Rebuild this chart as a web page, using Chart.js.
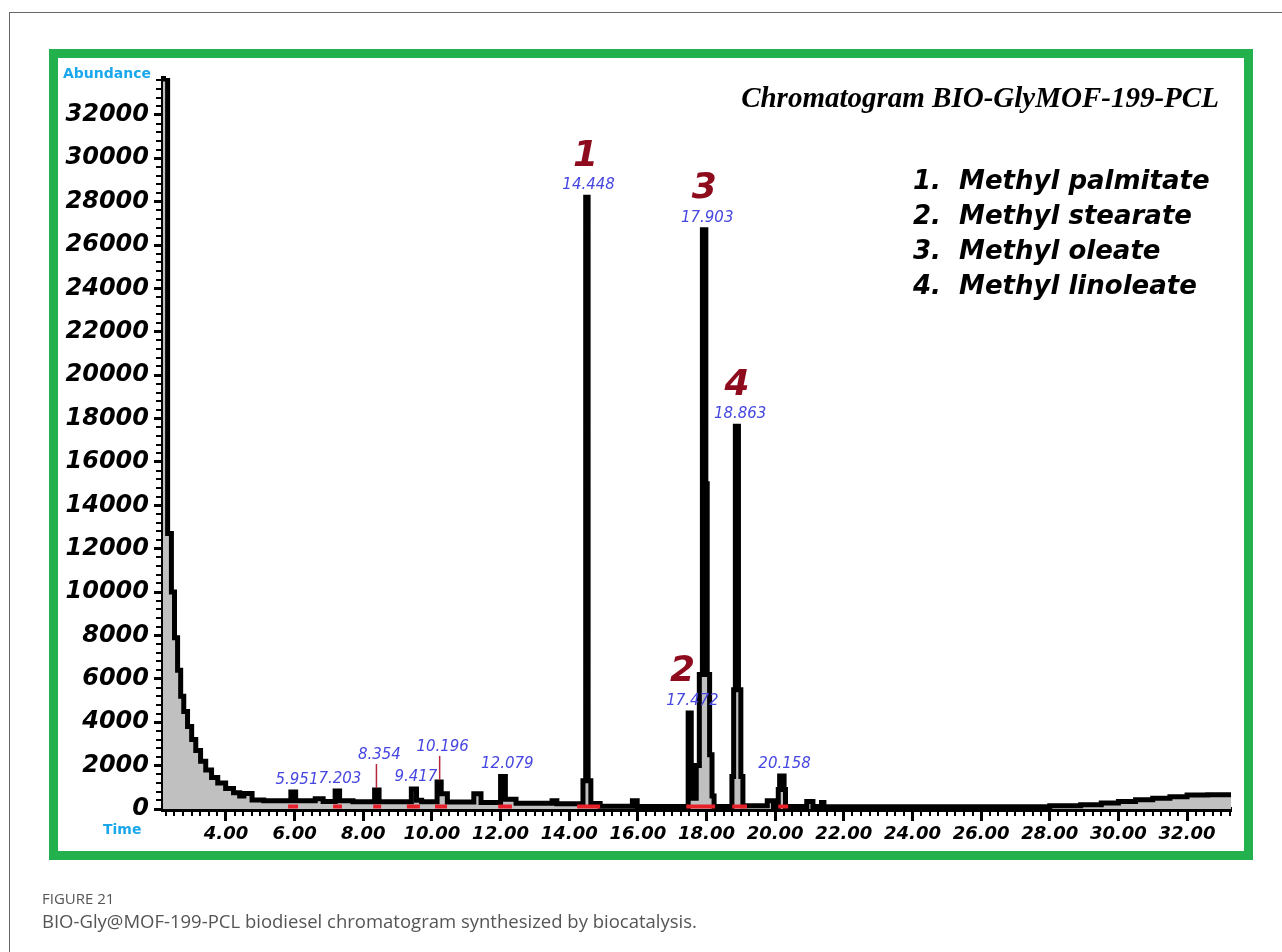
<!DOCTYPE html>
<html><head><meta charset="utf-8">
<script src="https://cdn.jsdelivr.net/npm/chart.js@4.4.0/dist/chart.umd.min.js"></script>
<style>
 body{margin:0;background:#fff;width:1282px;height:952px;overflow:hidden;position:relative}
 .frame{position:absolute;left:9px;top:12px;right:0;bottom:0;border-left:1px solid #666;border-top:1px solid #666}
 .green{position:absolute;left:49px;top:49px;width:1204px;height:811px;box-sizing:border-box;border:9px solid #22b14c}
 #c{position:absolute;left:0;top:0}
 .fig{position:absolute;left:42px;top:888px;font:500 15px "Open Sans",sans-serif;color:#555}
 .cap{position:absolute;left:42px;top:908px;font:18.5px "Open Sans",sans-serif;color:#555}
</style></head><body>
<div class="frame"></div>
<div class="green"></div>
<canvas id="c" width="1282" height="952"></canvas>
<div class="fig">FIGURE 21</div>
<div class="cap">BIO-Gly@MOF-199-PCL biodiesel chromatogram synthesized by biocatalysis.</div>
<script>
// retention time (min) where each step of the trace starts, and abundance
const time = [2.165, 2.30, 2.41, 2.50, 2.59, 2.68, 2.77, 2.88, 3.00, 3.12, 3.26, 3.41, 3.58, 3.76, 3.99, 4.22, 4.40, 4.52, 4.76, 5.10,
  5.89, 6.03, 6.60, 6.83, 7.18, 7.31, 7.70, 8.33, 8.46, 9.40, 9.55, 9.70, 10.15, 10.27, 10.45, 11.22, 11.43, 12.00, 12.14, 12.45,
  13.50, 13.64, 14.40, 14.48, 14.55, 14.63, 14.90, 15.84, 15.98, 17.465, 17.555, 17.70, 17.79, 17.88, 17.98, 18.02, 18.09, 18.16, 18.22,
  18.74, 18.79, 18.84, 18.93, 19.00, 19.06, 19.77, 19.95, 20.09, 20.13, 20.26, 20.30, 20.92, 21.10, 21.35, 21.42,
  28.00, 28.90, 29.50, 30.00, 30.50, 31.00, 31.50, 32.00, 32.60, 33.28];
const abundance = [33650, 12700, 10000, 7900, 6400, 5200, 4500, 3800, 3200, 2700, 2200, 1800, 1450, 1200, 950, 750, 600, 720, 420, 380,
  780, 380, 470, 350, 830, 380, 330, 875, 330, 920, 400, 330, 1250, 700, 320, 700, 300, 1500, 450, 260,
  380, 240, 1300, 28200, 1300, 250, 130, 380, 120, 4430, 500, 2000, 6200, 26700, 15000, 6200, 2500, 600, 120,
  1500, 5500, 17650, 5500, 1500, 150, 380, 110, 900, 1520, 900, 110, 350, 110, 300, 100,
  150, 200, 280, 350, 430, 500, 570, 640, 660, 660];

// axis ticks
const xTickValues = [4, 6, 8, 10, 12, 14, 16, 18, 20, 22, 24, 26, 28, 30, 32];
const yTickValues = [0, 2000, 4000, 6000, 8000, 10000, 12000, 14000, 16000, 18000, 20000, 22000, 24000, 26000, 28000, 30000, 32000];

// labelled peaks
const peakRT = ['5.951', '7.203', '8.354', '9.417', '10.196', '12.079', '14.448', '17.472', '17.903', '18.863', '20.158'];
const peakTop = [780, 830, 875, 920, 1250, 1500, 28200, 4430, 26700, 17650, 1520];
const peakNo = ['', '', '', '', '', '', '1', '2', '3', '4', ''];
const leader = [false, false, true, false, true, false, false, false, false, false, false];

// integration marks under the peaks
const markStart = [5.81, 7.12, 8.29, 9.27, 10.09, 11.93, 14.23, 17.41, 18.75, 20.09];
const markEnd = [6.10, 7.38, 8.52, 9.65, 10.44, 12.33, 14.90, 18.25, 19.18, 20.38];

const compounds = ['1.  Methyl palmitate', '2.  Methyl stearate', '3.  Methyl oleate', '4.  Methyl linoleate'];
const title = 'Chromatogram BIO-GlyMOF-199-PCL';

const trace = time.map((t, i) => ({x: t, y: abundance[i]}));
const marks = [];
markStart.forEach((s, i) => { marks.push({x: s, y: 120}, {x: markEnd[i], y: 120}, {x: markEnd[i], y: null}); });

const tickFont = (size) => ({family: '"DejaVu Sans"', size: size, weight: 'bold', style: 'italic'});

const decor = {
  id: 'decor',
  afterDatasetsDraw(chart) {
    const {ctx, scales: {x, y}} = chart;
    ctx.save();
    ctx.textAlign = 'center';
    ctx.textBaseline = 'middle';
    peakRT.forEach((rt, i) => {
      const px = x.getPixelForValue(+rt);
      const top = y.getPixelForValue(peakTop[i]);
      let cy = top - 12;
      if (leader[i]) {
        cy -= 23;
        ctx.strokeStyle = '#b4283a';
        ctx.lineWidth = 1.5;
        ctx.beginPath();
        ctx.moveTo(px + 1, cy + 9);
        ctx.lineTo(px + 1, top - 2);
        ctx.stroke();
      }
      ctx.fillStyle = '#4646e0';
      ctx.font = 'italic 15px "DejaVu Sans"';
      ctx.fillText(rt, px + 4, cy);
      if (peakNo[i]) {
        ctx.fillStyle = '#8e0b1e';
        ctx.font = 'italic bold 36px "DejaVu Sans"';
        const nudge = peakNo[i] === '2' ? -10 : -3;
        ctx.fillText(peakNo[i], px + 4 + nudge, cy - 29);
      }
    });
    ctx.restore();
  },
  afterDraw(chart) {
    const {ctx, scales: {x, y}, chartArea: a} = chart;
    ctx.save();
    ctx.strokeStyle = '#000';
    ctx.lineWidth = 2;
    ctx.beginPath();
    for (let v = 400; v < y.max; v += 400) {
      if (v % 2000 === 0) continue;
      const py = Math.round(y.getPixelForValue(v));
      ctx.moveTo(a.left - 7, py);
      ctx.lineTo(a.left, py);
    }
    for (let t = 2.25; t < x.max; t += 0.25) {
      if (Math.abs(t / 2 - Math.round(t / 2)) < 1e-6) continue;
      const px = Math.round(x.getPixelForValue(t));
      ctx.moveTo(px, a.bottom);
      ctx.lineTo(px, a.bottom + 7);
    }
    ctx.stroke();

    ctx.textBaseline = 'middle';
    ctx.fillStyle = '#1aa7ec';
    ctx.font = 'bold 14px "DejaVu Sans"';
    ctx.textAlign = 'left';
    ctx.fillText('Abundance', 63, 74);
    ctx.fillText('Time', 103, 830);

    ctx.fillStyle = '#000';
    ctx.textAlign = 'center';
    ctx.font = 'italic bold 29px "Liberation Serif"';
    ctx.fillText(title, 980, 100);

    ctx.textAlign = 'left';
    ctx.font = 'italic bold 26px "DejaVu Sans"';
    compounds.forEach((c, i) => ctx.fillText(c, 913, 182 + i * 35));
    ctx.restore();
  }
};

new Chart(document.getElementById('c'), {
  type: 'line',
  data: {
    datasets: [
      {data: marks, borderColor: '#e8202a', borderWidth: 4, pointRadius: 0, fill: false, spanGaps: false},
      {data: trace, stepped: true, borderColor: '#000', borderWidth: 5, backgroundColor: '#c0c0c0', fill: 'origin', pointRadius: 0}
    ]
  },
  options: {
    responsive: false,
    animation: false,
    events: [],
    layout: {padding: {top: 78, right: 51, left: 0, bottom: 83}},
    plugins: {legend: {display: false}, tooltip: {enabled: false}},
    scales: {
      x: {
        type: 'linear', min: 2.165, max: 33.28,
        afterFit: (s) => { s.height = 60; },
        afterBuildTicks: (s) => { s.ticks = xTickValues.map((v) => ({value: v})); },
        border: {color: '#000', width: 5},
        grid: {drawOnChartArea: false, color: '#000', tickLength: 12, tickWidth: 3},
        ticks: {autoSkip: false, maxRotation: 0, padding: 3, color: '#000',
          font: tickFont(18), callback: (v) => v.toFixed(2)}
      },
      y: {
        min: 0, max: 33700,
        afterFit: (s) => { s.width = 163; },
        afterBuildTicks: (s) => { s.ticks = yTickValues.map((v) => ({value: v})); },
        border: {color: '#000', width: 5},
        grid: {drawOnChartArea: false, color: '#000', tickLength: 9, tickWidth: 3},
        ticks: {autoSkip: false, padding: 5, color: '#000',
          font: tickFont(24), callback: (v) => String(v)}
      }
    }
  },
  plugins: [decor]
});
</script>
</body></html>
